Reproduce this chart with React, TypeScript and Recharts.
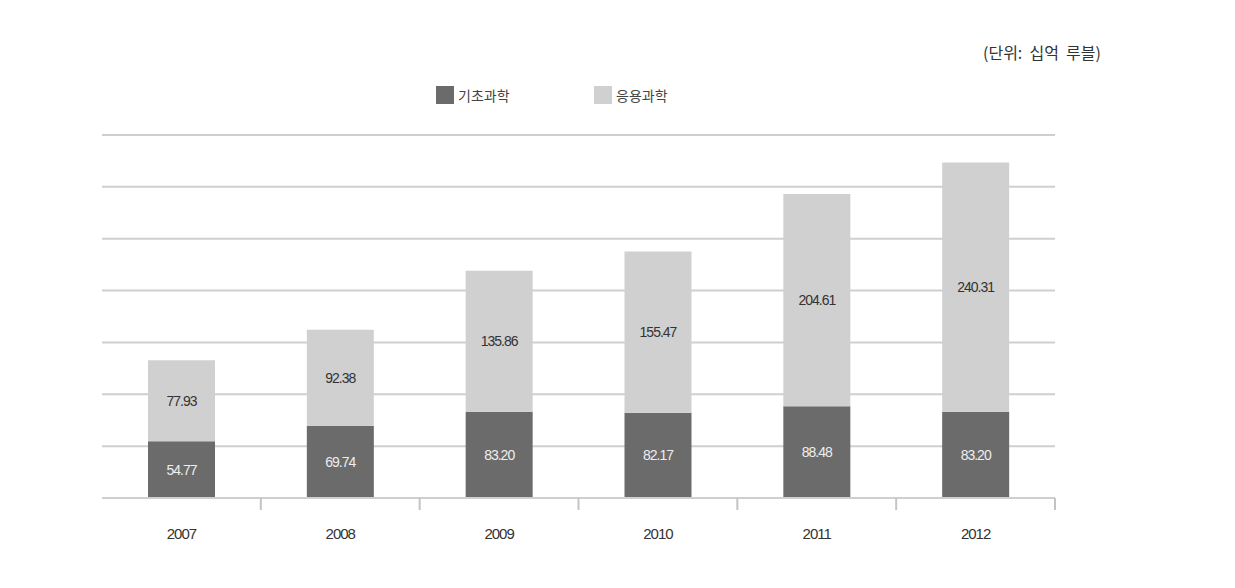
import React from "react";
import { BarChart, Bar, XAxis, YAxis, CartesianGrid, LabelList } from "recharts";

const years = ["2007", "2008", "2009", "2010", "2011", "2012"];
const basicScience = [54.77, 69.74, 83.2, 82.17, 88.48, 83.2];
const appliedScience = [77.93, 92.38, 135.86, 155.47, 204.61, 240.31];
const yTicks = [0, 50, 100, 150, 200, 250, 300, 350];

const seriesNames = ["기초과학", "응용과학"];
const colors = ["#6b6b6b", "#d0d0d0"];
const unitText = "(단위:  십억  루블)";

const data = years.map((y, i) => ({
  year: y,
  basic: basicScience[i],
  applied: appliedScience[i],
}));

const FONT = "'Liberation Sans', Arial, sans-serif";
const KFONT = "'Noto Sans CJK KR', sans-serif";

const W = 1219;
const H = 572;
const BAND = (1055 - 102) / 6;

const YearTick = (props: any) => {
  const { x, y, payload } = props;
  const bx = x + BAND / 2;
  return (
    <g>
      <line x1={bx} y1={y - 8} x2={bx} y2={y + 4} stroke="#c4c4c4" strokeWidth={2} />
      <text x={x} y={y + 33} textAnchor="middle" fontSize={15} fill="#333" fontFamily={FONT} letterSpacing={-1}>
        {payload.value}
      </text>
    </g>
  );
};

const fmt = (v: any) => Number(v).toFixed(2);

export default function App() {
  return (
    <div style={{ position: "relative", width: W, height: H }}>
      <div
        style={{
          position: "absolute",
          left: 975,
          top: 32,
          fontFamily: KFONT,
          fontSize: 16,
          color: "#333",
          whiteSpace: "pre",
        }}
      >
        {unitText}
      </div>
      {seriesNames.map((n, i) => (
        <div
          key={n}
          style={{
            position: "absolute",
            left: 428 + i * 158,
            top: 77,
            display: "flex",
            alignItems: "center",
            fontFamily: KFONT,
            fontSize: 14,
            color: "#444",
          }}
        >
          <span style={{ display: "inline-block", width: 18, height: 18, background: colors[i], marginRight: 4 }} />
          <span>{n}</span>
        </div>
      ))}
      <BarChart
        width={W}
        height={H}
        data={data}
        margin={{ top: 127, right: 172, left: 94, bottom: 52 }}
        barSize={67}
      >
        <CartesianGrid vertical={false} stroke="#cfcfcf" strokeWidth={2} />
        <XAxis
          dataKey="year"
          height={30}
          axisLine={{ stroke: "#cfcfcf", strokeWidth: 2 }}
          tickLine={false}
          tick={<YearTick />}
          interval={0}
        />
        <YAxis hide domain={[0, 350]} ticks={yTicks} />
        <Bar dataKey="basic" stackId="a" fill={colors[0]} isAnimationActive={false}>
          <LabelList
            dataKey="basic"
            position="center"
            formatter={fmt}
            fill="#eeeeee"
            fontSize={14}
            fontFamily={FONT}
            letterSpacing={-1}
          />
        </Bar>
        <Bar dataKey="applied" stackId="a" fill={colors[1]} isAnimationActive={false}>
          <LabelList
            dataKey="applied"
            position="center"
            formatter={fmt}
            fill="#333333"
            fontSize={14}
            fontFamily={FONT}
            letterSpacing={-1}
          />
        </Bar>
      </BarChart>
    </div>
  );
}
